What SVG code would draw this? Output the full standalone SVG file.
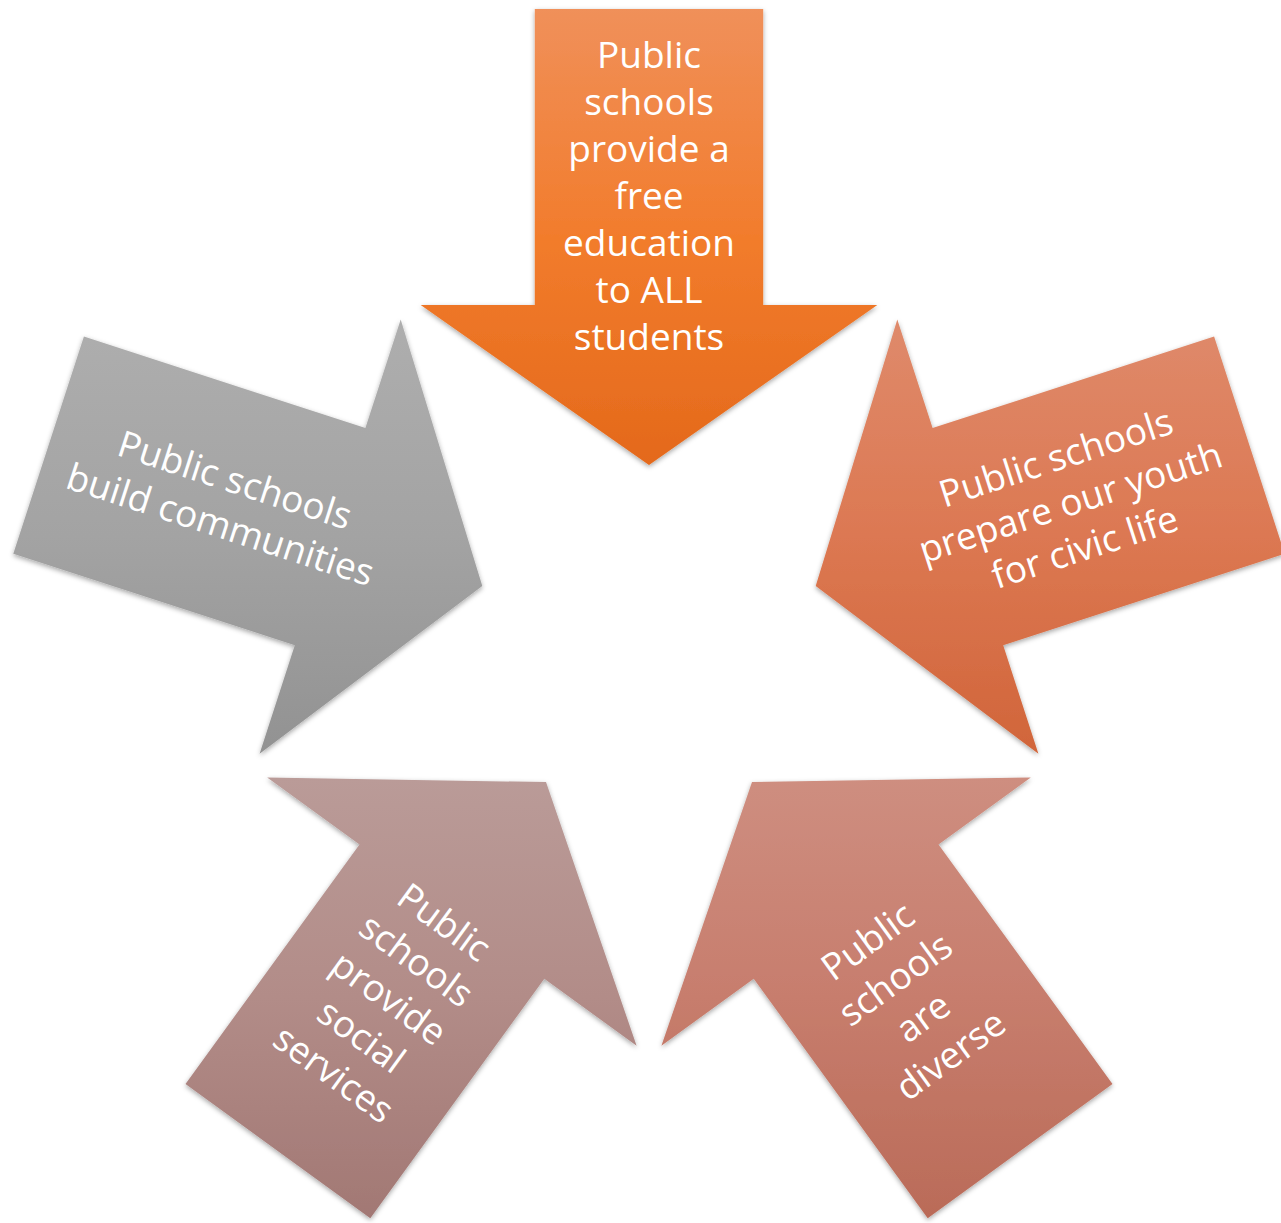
<svg xmlns="http://www.w3.org/2000/svg" width="1281" height="1223" viewBox="0 0 1281 1223">
  <style>
    .lbl { font-family: "Open Sans", "Liberation Sans", sans-serif; font-size: 37px; fill: #FFFFFF; text-anchor: middle; }
    .arrow { filter: url(#shadow); }
  </style>
  <defs>
    <filter id="shadow" x="-10%" y="-10%" width="120%" height="120%">
      <feDropShadow dx="0" dy="2" stdDeviation="2.5" flood-color="#000000" flood-opacity="0.35"/>
    </filter>
    <linearGradient id="gTop" x1="0" y1="0" x2="0" y2="1">
      <stop offset="0" stop-color="#F0905A"/>
      <stop offset="0.5" stop-color="#F27C2C"/>
      <stop offset="1" stop-color="#E4691B"/>
    </linearGradient>
    <linearGradient id="gRight" x1="0" y1="0" x2="0" y2="1">
      <stop offset="0" stop-color="#DF8A6B"/>
      <stop offset="0.5" stop-color="#DC7852"/>
      <stop offset="1" stop-color="#D1653A"/>
    </linearGradient>
    <linearGradient id="gBR" x1="0" y1="0" x2="0" y2="1">
      <stop offset="0" stop-color="#CE8E80"/>
      <stop offset="0.5" stop-color="#C77D6D"/>
      <stop offset="1" stop-color="#BA6B58"/>
    </linearGradient>
    <linearGradient id="gBL" x1="0" y1="0" x2="0" y2="1">
      <stop offset="0" stop-color="#BA9B98"/>
      <stop offset="0.5" stop-color="#B28C88"/>
      <stop offset="1" stop-color="#A27874"/>
    </linearGradient>
    <linearGradient id="gLeft" x1="0" y1="0" x2="0" y2="1">
      <stop offset="0" stop-color="#AEAEAE"/>
      <stop offset="0.5" stop-color="#A3A3A3"/>
      <stop offset="1" stop-color="#929292"/>
    </linearGradient>
  </defs>
  <rect width="1281" height="1223" fill="#FFFFFF"/>
  <g id="connectors"/>
  <g id="node-top">
    <polygon class="arrow" fill="url(#gTop)" points="534.8,9 763.2,9 763.2,305 877.3,305 649,465 420.7,305 534.8,305"/>
    <text class="lbl" transform="translate(649,197)"><tspan x="0" y="-128.7">Public</tspan><tspan x="0" y="-81.8">schools</tspan><tspan x="0" y="-34.9">provide a</tspan><tspan x="0" y="12">free</tspan><tspan x="0" y="58.9">education</tspan><tspan x="0" y="105.8">to ALL</tspan><tspan x="0" y="152.7">students</tspan></text>
  </g>
  <g id="node-right">
    <polygon class="arrow" fill="url(#gRight)" points="1214.1,336.6 1284.7,553.8 1003.2,645.3 1038.4,753.8 815.7,586.1 897.3,319.6 932.6,428.1"/>
    <text class="lbl" transform="translate(1070.6,503.3) rotate(-18)"><tspan x="0" y="-34.9">Public schools</tspan><tspan x="0" y="12">prepare our youth</tspan><tspan x="0" y="58.9">for civic life</tspan></text>
  </g>
  <g id="node-bottom-right">
    <polygon class="arrow" fill="url(#gBR)" points="1112.5,1083.9 927.7,1218.2 753.7,978.7 661.4,1045.8 752.0,782.1 1030.8,777.4 938.5,844.4"/>
    <text class="lbl" transform="translate(909.6,998.9) rotate(-36)"><tspan x="0" y="-58.35">Public</tspan><tspan x="0" y="-11.45">schools</tspan><tspan x="0" y="35.45">are</tspan><tspan x="0" y="82.35">diverse</tspan></text>
  </g>
  <g id="node-bottom-left">
    <polygon class="arrow" fill="url(#gBL)" points="370.3,1218.2 185.5,1083.9 359.5,844.4 267.2,777.4 546.0,782.1 636.6,1045.8 544.3,978.7"/>
    <text class="lbl" transform="translate(388.4,998.9) rotate(36)"><tspan x="0" y="-81.8">Public</tspan><tspan x="0" y="-34.9">schools</tspan><tspan x="0" y="12">provide</tspan><tspan x="0" y="58.9">social</tspan><tspan x="0" y="105.8">services</tspan></text>
  </g>
  <g id="node-left">
    <polygon class="arrow" fill="url(#gLeft)" points="13.3,553.8 83.9,336.6 365.4,428.1 400.7,319.6 482.3,586.1 259.6,753.8 294.8,645.3"/>
    <text class="lbl" transform="translate(227.4,503.3) rotate(18)"><tspan x="0" y="-11.45">Public schools</tspan><tspan x="0" y="35.45">build communities</tspan></text>
  </g>
</svg>
